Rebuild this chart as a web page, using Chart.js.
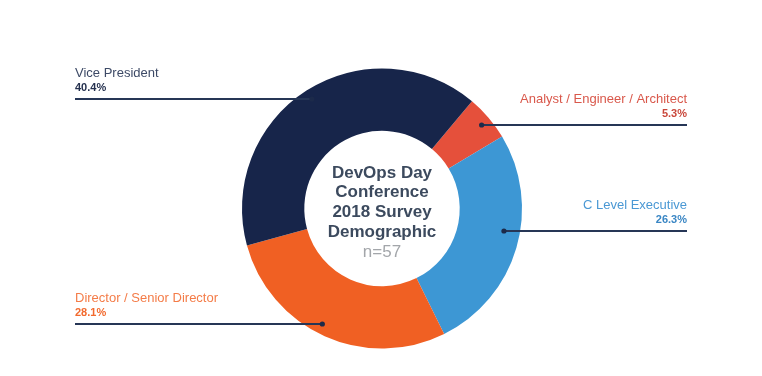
<!DOCTYPE html>
<html>
<head>
<meta charset="utf-8">
<script src="https://cdn.jsdelivr.net/npm/chart.js@4.4.1/dist/chart.umd.min.js"></script>
<style>
  html, body { margin: 0; padding: 0; background: #fff; }
  #wrap { width: 762px; height: 376px; }
</style>
</head>
<body>
<div id="wrap"><canvas id="demoChart" width="762" height="376"></canvas></div>
<script>
// Survey data (clockwise, starting from the small red slice)
const categories = ['Analyst / Engineer / Architect', 'C Level Executive', 'Director / Senior Director', 'Vice President'];
const shares = [5.3, 26.3, 28.1, 40.4];
const sliceColors = ['#e5503b', '#3d97d4', '#f06023', '#17254a'];
const nameColors = ['#d9584b', '#4a98d4', '#f47c48', '#3d4a66'];
const pctColors = ['#c9473b', '#3a86c4', '#f26a2e', '#25314f'];
const centerLines = ['DevOps Day', 'Conference', '2018 Survey', 'Demographic'];
const sampleNote = 'n=57';

// where each callout sits (side, text edge x, leader line y, dot inset from outer edge)
const callouts = [
  { side: 'right', x: 687, y: 125, inset: 10 },
  { side: 'right', x: 687, y: 231, inset: 16 },
  { side: 'left', x: 75, y: 324, inset: 10 },
  { side: 'left', x: 75, y: 99, inset: 10 }
];

const calloutPlugin = {
  id: 'callouts',
  afterDraw(chart) {
    const ctx = chart.ctx;
    const arcs = chart.getDatasetMeta(0).data;
    ctx.save();
    arcs.forEach((arc, i) => {
      const c = callouts[i];
      const mid = (arc.startAngle + arc.endAngle) / 2;
      const r = arc.outerRadius - c.inset;
      const dy = c.y - arc.y;
      const dx = Math.sqrt(Math.max(r * r - dy * dy, 0));
      const dotX = arc.x + (Math.cos(mid) >= 0 ? dx : -dx);

      ctx.strokeStyle = '#263656';
      ctx.lineWidth = 2;
      ctx.beginPath();
      ctx.moveTo(c.x, c.y);
      ctx.lineTo(dotX, c.y);
      ctx.stroke();
      ctx.fillStyle = '#1c2a4a';
      ctx.beginPath();
      ctx.arc(dotX, c.y, 2.6, 0, Math.PI * 2);
      ctx.fill();

      ctx.textAlign = c.side === 'left' ? 'left' : 'right';
      ctx.textBaseline = 'middle';
      ctx.fillStyle = nameColors[i];
      ctx.font = '13px "Liberation Sans", Arial, sans-serif';
      ctx.fillText(categories[i], c.x, c.y - 26);
      ctx.fillStyle = pctColors[i];
      ctx.font = 'bold 11px "Liberation Sans", Arial, sans-serif';
      ctx.fillText(shares[i].toFixed(1) + '%', c.x, c.y - 11);
    });

    // title in the hole
    const cx = arcs[0].x, cy = arcs[0].y;
    ctx.textAlign = 'center';
    ctx.textBaseline = 'middle';
    ctx.fillStyle = '#3c4a5e';
    ctx.font = 'bold 17px "Liberation Sans", Arial, sans-serif';
    centerLines.forEach((t, k) => ctx.fillText(t, cx, cy - 35.5 + k * 19.75));
    ctx.fillStyle = '#a3a6aa';
    ctx.font = '17px "Liberation Sans", Arial, sans-serif';
    ctx.fillText(sampleNote, cx, cy - 35.5 + 4 * 19.75);
    ctx.restore();
  }
};

new Chart(document.getElementById('demoChart').getContext('2d'), {
  type: 'doughnut',
  data: {
    labels: categories,
    datasets: [{
      data: shares,
      backgroundColor: sliceColors,
      borderWidth: 0
    }]
  },
  options: {
    responsive: false,
    animation: false,
    devicePixelRatio: 1,
    rotation: 40,
    cutout: '55.5%',
    layout: { padding: { top: 68, bottom: 27, left: 242, right: 240 } },
    plugins: {
      legend: { display: false },
      tooltip: { enabled: false }
    }
  },
  plugins: [calloutPlugin]
});
</script>
</body>
</html>
